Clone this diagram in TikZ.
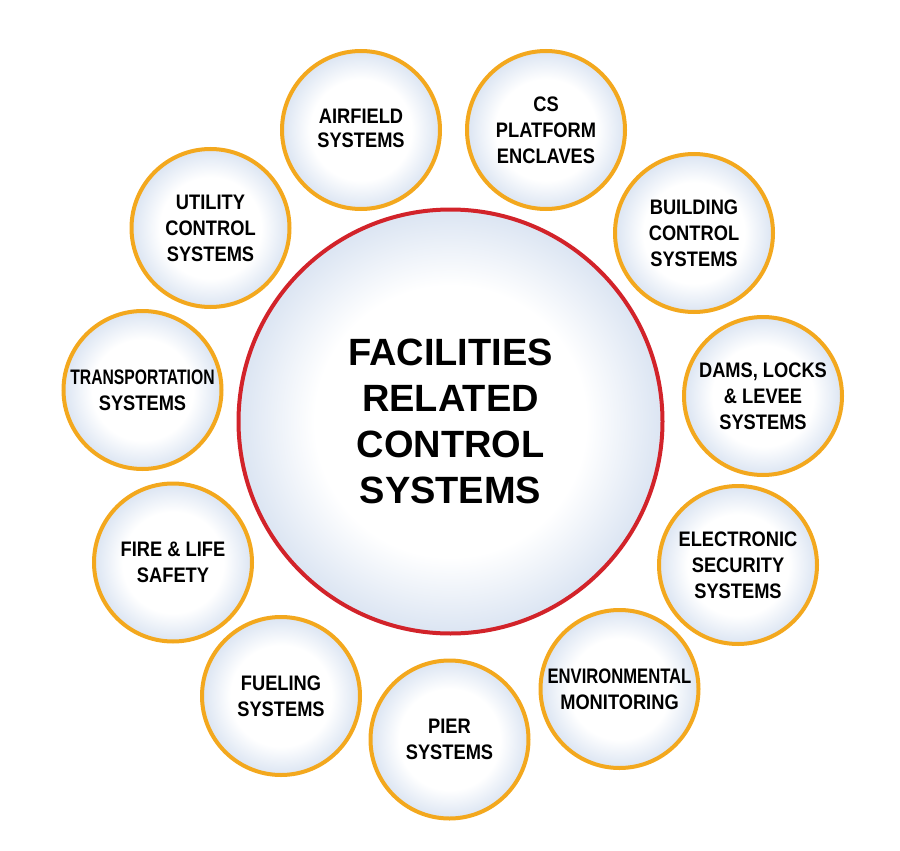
\documentclass[tikz,border=0pt]{standalone}
\usepackage{fontspec}
\setmainfont{Liberation Sans}
\newfontfamily\narrowfont{Liberation Sans}[FakeStretch=0.87]
\definecolor{ringorange}{HTML}{F3A81E}
\definecolor{ringred}{HTML}{D2232A}
\definecolor{bubedge}{HTML}{DDE6F3}
\pgfdeclareradialshading{bubble}{\pgfpoint{0bp}{0bp}}{color(0bp)=(white); color(16bp)=(white); color(24.5bp)=(bubedge); color(50bp)=(bubedge)}
\tikzset{
  smallbubble/.style={circle, draw=ringorange, line width=4pt, shading=bubble,
    minimum size=158pt, inner sep=0pt, align=center,
    font=\narrowfont\bfseries\fontsize{21}{26}\selectfont},
  bigbubble/.style={circle, draw=ringred, line width=4pt, shading=bubble,
    minimum size=424pt, inner sep=0pt, align=center,
    font=\bfseries\fontsize{38}{46}\selectfont}
}
\begin{document}
\begin{tikzpicture}[x=1pt,y=-1pt]
\useasboundingbox (0,0) rectangle (900,851);
\node[bigbubble] (main) at (450.5,421.5) {FACILITIES\\RELATED\\CONTROL\\SYSTEMS};
\node[smallbubble] (air) at (361,130) {\raisebox{6pt}{\begin{tabular}{@{}c@{}}AIRFIELD\\[-2pt]SYSTEMS\end{tabular}}};
\node[smallbubble] (csp) at (546,130) {CS\\PLATFORM\\ENCLAVES};
\node[smallbubble] (bld) at (694,233) {BUILDING\\CONTROL\\SYSTEMS};
\node[smallbubble] (dam) at (763,396) {DAMS, LOCKS\\\& LEVEE\\SYSTEMS};
\node[smallbubble] (ele) at (738,565) {ELECTRONIC\\SECURITY\\SYSTEMS};
\node[smallbubble] (env) at (619.5,689) {\scalebox{0.91}[1]{ENVIRONMENTAL}\\MONITORING};
\node[smallbubble] (pier) at (449.5,739.5) {PIER\\SYSTEMS};
\node[smallbubble] (fuel) at (281,696) {FUELING\\SYSTEMS};
\node[smallbubble] (fire) at (173,562.5) {FIRE \& LIFE\\SAFETY};
\node[smallbubble] (trans) at (142.5,390) {\scalebox{0.86}[1]{TRANSPORTATION}\\SYSTEMS};
\node[smallbubble] (util) at (210.5,228) {UTILITY\\CONTROL\\SYSTEMS};
\end{tikzpicture}
\end{document}
